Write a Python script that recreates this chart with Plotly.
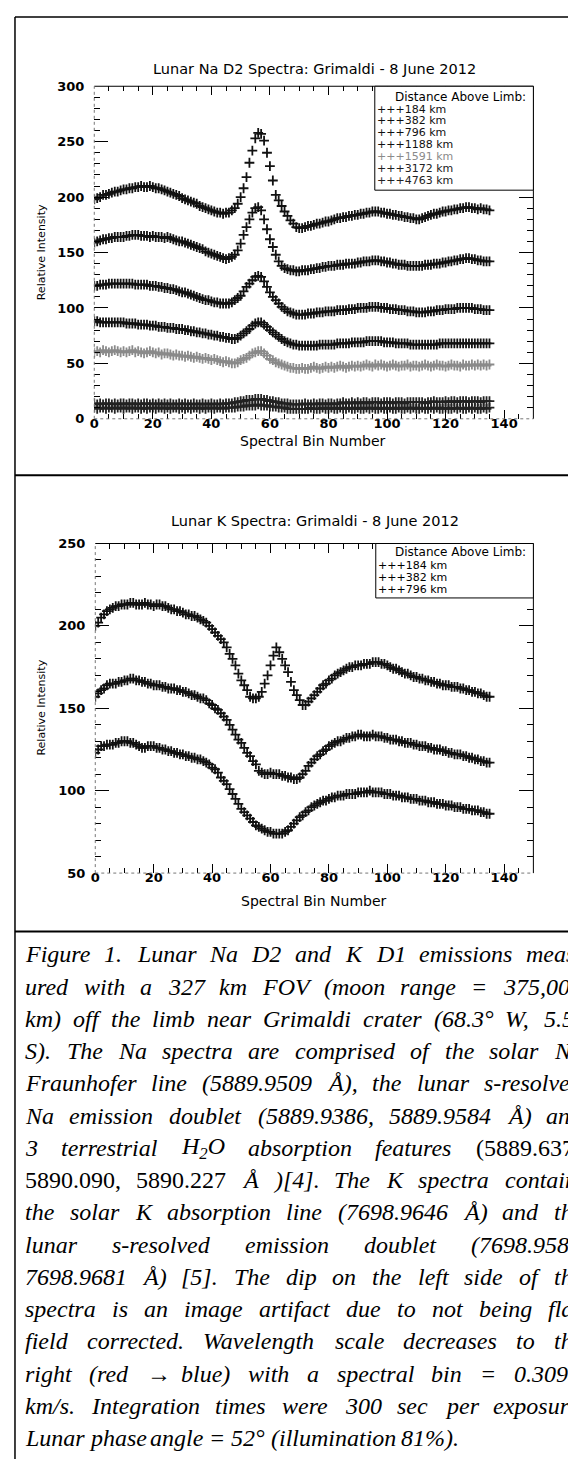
import plotly.graph_objects as go

# Page is drawn inside an 8px body margin; all positions below are given in
# screen pixels and shifted by that margin.
OFF = 8
W, H = 576 - OFF, 1467 - OFF

bins = list(range(136))

# ---------------- Na D2 spectra (Relative Intensity) ----------------
na_labels = ["184 km", "382 km", "796 km", "1188 km", "1591 km", "3172 km", "4763 km"]

na_184 = [198,199,200,202,202,203,204,205,205,206, 207,207,208,208,209,209,210,209,209,210,
          209,208,208,207,206,205,204,203,202,201, 199,198,197,196,195,194,192,191,190,189,
          188,187,186,186,185,186,186,188,190,194, 200,208,218,231,242,253,258,257,251,240,
          228,215,202,197,192,187,183,179,176,173, 172,172,173,174,174,175,176,176,177,178,
          178,179,180,181,181,182,182,183,183,184, 184,185,185,186,186,187,187,187,186,186,
          185,185,184,184,183,183,182,182,181,181, 180,180,181,182,183,184,185,185,186,187,
          187,188,188,189,189,190,190,191,191,190, 190,189,190,189,189,188]
na_382 = [159,160,161,162,162,163,163,164,164,164, 164,165,165,166,166,166,165,165,165,164,
          165,164,164,164,163,164,163,162,161,160, 160,159,158,157,156,155,154,153,151,150,
          149,148,147,146,145,144,145,146,148,152, 158,166,173,180,186,190,191,188,180,171,
          162,155,148,142,138,136,135,134,134,133, 133,134,134,134,135,135,136,136,137,137,
          138,138,138,139,139,139,140,140,140,140, 141,141,142,142,142,143,143,143,142,142,
          141,141,140,140,139,139,139,138,138,138, 138,138,138,139,139,139,140,140,140,141,
          141,142,142,143,143,144,144,145,145,144, 144,143,143,142,142,142]
na_796 = [120,120,121,121,121,122,122,122,122,122, 122,122,122,122,121,121,121,121,121,120,
          120,120,119,119,118,118,117,117,116,115, 114,114,113,112,111,110,109,108,107,107,
          106,105,105,104,104,104,104,105,107,109, 111,115,119,122,125,128,129,128,124,119,
          114,110,107,104,101,99,97,96,95,94, 94,94,94,95,95,95,96,96,96,97,
          97,97,97,98,98,98,98,99,99,99, 100,100,100,100,101,101,101,101,100,100,
          100,99,99,99,98,98,98,97,97,97, 96,96,96,96,97,97,97,98,98,98,
          99,99,99,99,100,100,100,100,100,100, 99,99,99,98,98,98]
na_1188 = [88,88,87,87,87,87,87,87,87,87, 87,86,86,86,86,85,85,85,85,84,
           84,84,83,83,83,82,82,82,81,81, 81,80,80,79,79,78,78,77,77,76,
           76,75,75,74,74,73,73,72,72,73, 75,77,79,81,84,86,87,87,85,83,
           80,78,76,74,72,70,69,68,67,67, 66,66,66,66,66,66,66,67,67,67,
           67,67,67,68,68,68,68,68,69,69, 69,69,69,70,70,70,70,70,70,69,
           69,69,69,68,68,68,68,68,67,67, 67,67,67,67,67,67,67,67,68,68,
           68,68,68,68,68,68,68,68,68,68, 68,68,68,68,68,68]
na_1591 = [60,61,60,62,61,60,61,62,61,60, 61,60,61,62,60,61,60,59,60,61,
           60,59,60,58,59,59,58,57,58,57, 57,56,57,56,55,56,55,54,55,54,
           53,54,53,52,51,52,51,50,50,51, 53,54,55,57,59,60,61,61,59,57,
           54,53,51,50,49,48,47,46,46,45, 45,46,45,45,46,47,46,45,46,47,
           46,47,46,47,48,47,46,47,48,47, 48,47,48,49,48,47,49,48,49,48,
           47,48,49,48,47,48,48,49,47,48, 48,47,48,49,48,47,48,49,48,48,
           47,48,49,48,48,47,49,48,48,49, 48,49,48,49,48,49]
na_3172 = [14,13,14,13,14,14,13,14,13,14, 14,13,14,14,13,14,13,14,14,13,
           14,13,14,13,14,13,14,13,13,14, 13,14,13,13,14,13,13,14,13,13,
           14,13,13,14,13,14,14,14,15,15, 16,16,17,17,17,18,18,18,17,17,
           16,16,15,15,14,14,14,13,13,13, 13,13,14,13,13,14,13,14,14,13,
           14,14,13,14,14,15,14,14,15,14, 15,14,15,15,14,15,15,15,14,15,
           15,15,14,15,15,15,14,15,15,15, 15,15,15,14,15,15,16,15,15,15,
           16,15,16,16,15,16,16,16,15,16, 16,16,15,16,16,16]
na_4763 = [10,9,10,10,9,10,10,9,10,10, 9,10,10,9,10,10,9,10,9,10,
           10,9,10,10,9,10,9,10,10,9, 10,9,10,9,10,10,9,10,9,10,
           10,9,10,10,9,10,10,10,10,11, 11,11,12,12,12,12,13,12,12,12,
           11,11,11,10,10,10,9,9,9,9, 9,9,9,9,10,9,9,9,10,9,
           9,10,9,9,10,9,9,10,9,9, 10,9,9,10,9,10,9,9,10,9,
           9,10,9,9,10,9,9,10,9,10, 9,9,10,9,9,10,9,10,9,9,
           10,9,9,10,9,10,9,9,10,9, 10,9,9,10,9,10]
na_series = [na_184, na_382, na_796, na_1188, na_1591, na_3172, na_4763]
na_colors = ["#111111", "#111111", "#111111", "#111111", "#8a8a8a", "#222222", "#222222"]

# ---------------- K D1 spectra ----------------
k_labels = ["184 km", "382 km", "796 km"]
k_184 = [200,202,205,207,209,210,211,212,212,213, 213,213,214,214,213,213,213,214,213,213,
         212,213,213,212,212,211,210,210,209,209, 208,207,207,206,206,205,204,203,202,200,
         198,196,194,192,190,187,183,180,176,171, 167,164,161,157,156,156,157,160,165,170,
         176,182,187,184,180,176,172,166,161,158, 155,152,152,154,156,158,160,162,164,165,
         167,168,170,171,172,173,174,175,175,176, 176,176,177,177,177,178,178,178,177,177,
         176,175,174,174,173,172,171,171,170,169, 169,168,168,167,167,166,166,165,165,164,
         164,164,163,163,163,162,162,161,161,160, 160,159,159,158,157,157]
k_382 = [157,159,161,162,164,165,165,165,166,166, 167,167,168,168,167,167,166,166,165,165,
         164,164,164,163,163,162,162,162,161,161, 160,160,159,158,158,157,156,156,155,153,
         152,150,149,147,145,143,140,137,134,131, 129,126,123,121,118,116,112,111,110,110,
         111,110,110,110,109,109,108,108,107,107, 108,110,112,115,117,119,121,122,124,125,
         127,128,129,130,130,131,132,132,133,133, 134,134,133,133,133,134,133,133,133,132,
         132,131,131,131,130,130,129,129,129,128, 128,127,127,127,126,126,125,125,125,124,
         124,123,123,122,122,122,121,121,120,120, 119,119,118,118,117,117]
k_796 = [123,125,127,127,128,128,128,129,129,130, 130,130,129,129,128,127,126,126,127,127,
         127,126,126,125,125,124,124,123,123,122, 122,121,121,120,120,119,119,118,117,116,
         114,113,111,108,106,104,101,98,95,92, 89,87,85,83,81,79,78,77,76,75,
         75,74,74,74,74,75,76,78,80,82, 84,85,87,88,90,91,92,93,94,94,
         95,96,96,97,97,97,98,98,98,98, 99,99,99,99,100,99,99,99,99,98,
         98,98,97,97,97,96,96,96,95,95, 95,94,94,94,93,93,93,92,92,92,
         91,91,91,90,90,90,89,89,89,88, 88,88,87,87,86,86]
k_series = [k_184, k_382, k_796]

na_y_range = [0, 300]
k_y_range = [50, 250]
x_range = [0, 150]

caption = [
    "Figure 1.  Lunar Na D2 and K D1 emissions meas-",
    "ured with a 327 km FOV (moon range = 375,000",
    "km) off the limb near Grimaldi crater (68.3° W, 5.5°",
    "S). The Na spectra are comprised of the solar Na",
    "Fraunhofer line (5889.9509 Å), the lunar s-resolved",
    "Na emission doublet (5889.9386, 5889.9584 Å) and",
    "3 terrestrial H<sub>2</sub>O absorption features (5889.637,",
    "5890.090, 5890.227 Å )[4]. The K spectra contain",
    "the solar K absorption line (7698.9646 Å) and the",
    "lunar s-resolved emission doublet (7698.9586,",
    "7698.9681 Å) [5]. The dip on the left side of the",
    "spectra is an image artifact due to not being flat",
    "field corrected. Wavelength scale decreases to the",
    "right (red → blue) with a spectral bin = 0.309",
    "km/s. Integration times were 300 sec per exposure.",
    "Lunar phase angle = 52° (illumination 81%).",
]
upright_words = {"(5889.637,", "5890.090,", "5890.227"}


def px(x):
    return (x - OFF) / W


def py(y):
    return 1 - (y - OFF) / H


fig = go.Figure()

for s, c in zip(na_series, na_colors):
    fig.add_trace(go.Scatter(
        x=bins, y=s, mode="markers", xaxis="x", yaxis="y", showlegend=False,
        marker=dict(symbol="cross-thin", size=7, line=dict(width=1.8, color=c), color=c)))

for s in k_series:
    fig.add_trace(go.Scatter(
        x=bins, y=s, mode="markers", xaxis="x2", yaxis="y2", showlegend=False,
        marker=dict(symbol="cross-thin", size=7, line=dict(width=1.8, color="#111111"), color="#111111")))

tickfont = dict(family="DejaVu Sans", size=13, color="black", weight="bold")


def xaxis_cfg(dom, anchor):
    return dict(domain=dom, anchor=anchor, range=x_range, dtick=20, tick0=0,
                ticks="inside", ticklen=9, tickwidth=1, tickcolor="black",
                minor=dict(dtick=5, tick0=0, ticks="inside", ticklen=5, tickcolor="black"),
                mirror="ticks", showline=False, showgrid=False, zeroline=False,
                tickfont=tickfont, ticklabelstandoff=-5)


def yaxis_cfg(dom, anchor, rng):
    return dict(domain=dom, anchor=anchor, range=rng, dtick=50, tick0=0,
                ticks="inside", ticklen=14, tickwidth=1, tickcolor="black",
                minor=dict(dtick=10, tick0=0, ticks="inside", ticklen=6, tickcolor="black"),
                mirror="ticks", showline=False, showgrid=False, zeroline=False,
                tickfont=tickfont, ticklabelstandoff=9)


na_xdom = [px(90), px(533)]
na_ydom = [py(416), py(80)]
k_xdom = [px(91), px(533)]
k_ydom = [py(875), py(542)]

shapes = []
# page frame and dividers
shapes.append(dict(type="line", xref="paper", yref="paper", x0=px(10), x1=px(10), y0=py(10), y1=py(1467),
                   line=dict(color="black", width=1.5)))
shapes.append(dict(type="line", xref="paper", yref="paper", x0=px(10), x1=px(576), y0=py(10), y1=py(10),
                   line=dict(color="black", width=1.5)))
for yd in (473, 934):
    shapes.append(dict(type="line", xref="paper", yref="paper", x0=px(10), x1=px(576), y0=py(yd), y1=py(yd),
                       line=dict(color="black", width=2)))

# plot boxes: solid top/right, faint dotted left/bottom
for xa, ya in (("x", "y"), ("x2", "y2")):
    xr, yr = xa + " domain", ya + " domain"
    shapes.append(dict(type="line", xref=xr, yref=yr, x0=0, x1=1, y0=1, y1=1, line=dict(color="black", width=1)))
    shapes.append(dict(type="line", xref=xr, yref=yr, x0=1, x1=1, y0=0, y1=1, line=dict(color="black", width=1)))
    shapes.append(dict(type="line", xref=xr, yref=yr, x0=0, x1=0, y0=0, y1=1, line=dict(color="#777", width=1, dash="dot")))
    shapes.append(dict(type="line", xref=xr, yref=yr, x0=0, x1=1, y0=0, y1=0, line=dict(color="#777", width=1, dash="dot")))

# legend boxes
shapes.append(dict(type="rect", xref="paper", yref="paper", x0=px(373), x1=px(533), y0=py(185), y1=py(80),
                   line=dict(color="black", width=1), fillcolor="white"))
shapes.append(dict(type="rect", xref="paper", yref="paper", x0=px(374), x1=px(533), y0=py(597), y1=py(542),
                   line=dict(color="black", width=1), fillcolor="white"))

ann = []


def text(x, y, s, size=12, family="DejaVu Sans", anchor="center", angle=0, color="black",
         weight="normal", style="normal"):
    ann.append(dict(x=px(x), y=py(y), xref="paper", yref="paper", text=s, showarrow=False,
                    xanchor=anchor, yanchor="middle", textangle=angle,
                    font=dict(family=family, size=size, color=color, weight=weight, style=style)))


# Na panel texts
text(312, 63, "Lunar Na D2 Spectra: Grimaldi - 8 June 2012", size=14.5)
text(311, 438, "Spectral Bin Number", size=14)
text(37, 248, "Relative Intensity", size=11, angle=-90)
text(528, 91, "Distance Above Limb:", size=12, anchor="right")
for i, lab in enumerate(na_labels):
    text(373, 103 + 12 * i, "+++" + lab, size=11, anchor="left", color=na_colors[i])

# K panel texts
text(313, 519, "Lunar K Spectra: Grimaldi - 8 June 2012", size=14.5)
text(312, 903, "Spectral Bin Number", size=14)
text(37, 708, "Relative Intensity", size=11, angle=-90)
text(528, 551, "Distance Above Limb:", size=12, anchor="right")
for i, lab in enumerate(k_labels):
    text(374, 564 + 12 * i, "+++" + lab, size=11, anchor="left")

# ---- justified caption (Times italic metrics, per 1000 em) ----
TI = {" ": 250, "!": 333, "(": 333, ")": 333, ",": 250, "-": 333, ".": 250, "/": 278, ":": 333,
      ";": 333, "=": 675, "[": 389, "]": 389, "%": 833, "°": 400, "Å": 611, "→": 700}
TI.update({d: 500 for d in "0123456789"})
TI.update(dict(zip("ABCDEFGHIJKLMNOPQRSTUVWXYZ",
                   [611, 611, 667, 722, 611, 611, 722, 722, 333, 444, 667, 556, 833, 667, 722, 611,
                    722, 611, 500, 556, 722, 611, 833, 611, 556, 556])))
TI.update(dict(zip("abcdefghijklmnopqrstuvwxyz",
                   [500, 500, 444, 500, 444, 278, 500, 500, 278, 278, 444, 278, 722, 500, 500, 500,
                    500, 389, 389, 278, 500, 444, 667, 444, 444, 389])))
CAP_SIZE = 24


def word_width(w):
    if "<sub>" in w:
        base = w.replace("<sub>2</sub>", "")
        return (sum(TI.get(ch, 500) for ch in base) + 350) * CAP_SIZE / 1000
    return sum(TI.get(ch, 500) for ch in w) * CAP_SIZE / 1000


cap_left = 18
cap_right = [581, 578, 581, 580, 580, 580, 577, 574, 581, 584, 581, 578, 581, 565, 583, None]
for i, line in enumerate(caption):
    yline = 957 + 32.6 * i
    words = line.split()
    widths = [word_width(w) for w in words]
    if cap_right[i] is None or len(words) < 2:
        gap = TI[" "] * CAP_SIZE / 1000
    else:
        gap = (cap_right[i] - cap_left - sum(widths)) / (len(words) - 1)
    xw = cap_left
    for w, wd in zip(words, widths):
        text(xw, yline, w, size=CAP_SIZE, family="Liberation Serif", anchor="left",
             style="normal" if w in upright_words else "italic")
        xw += wd + gap

fig.update_layout(
    width=W, height=H, margin=dict(l=0, r=0, t=0, b=0),
    paper_bgcolor="white", plot_bgcolor="rgba(0,0,0,0)",
    xaxis=xaxis_cfg(na_xdom, "y"), yaxis=yaxis_cfg(na_ydom, "x", na_y_range),
    xaxis2=xaxis_cfg(k_xdom, "y2"), yaxis2=yaxis_cfg(k_ydom, "x2", k_y_range),
    shapes=shapes, annotations=ann, showlegend=False,
)

fig.write_html("out.html")
